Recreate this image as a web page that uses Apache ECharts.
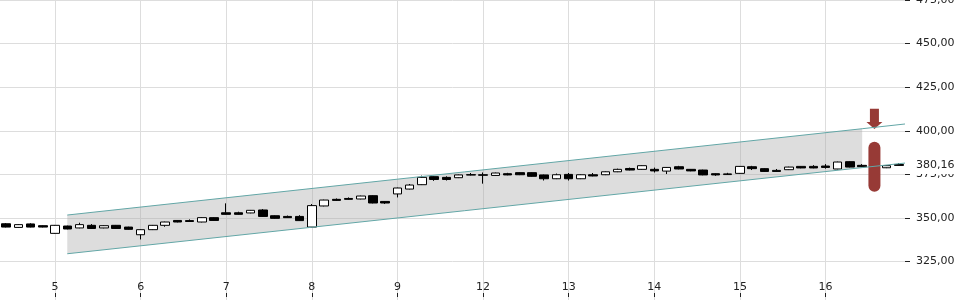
<!DOCTYPE html>
<html><head><meta charset="utf-8">
<script src="https://cdn.jsdelivr.net/npm/echarts@6/dist/echarts.min.js"></script>
<style>html,body{margin:0;padding:0;background:#fff}#c{width:960px;height:300px}</style>
</head><body><div id="c"></div>
<script>
// ---- data ----
const dayLabels = ['4','5','6','7','8','9','12','13','14','15','16'];
const sessionHours = ['09','10','11','12','13','14','15'];
const firstDayHours = ['12','13','14','15'];

const open  = [346.7,344.6,346.6,345.6,341.2,345.4,344.3,345.8,344.3,345.8,344.8,340.4,343.3,345.8,348.6,348.5,347.7,350.2,353.0,353.0,352.9,354.6,351.3,350.9,350.9,344.8,356.9,360.7,361.2,360.9,362.8,359.5,363.8,366.6,369.1,373.7,373.3,373.1,374.6,374.8,374.4,375.4,376.0,376.0,374.7,372.5,375.0,372.5,374.8,374.8,376.5,378.4,377.9,377.9,376.9,379.4,377.9,377.5,375.4,374.9,375.6,379.4,378.3,377.3,377.7,379.6,379.6,379.8,378.1,382.3,380.2,379.6,378.8,380.7];
const close = [344.8,346.2,344.8,344.8,345.8,343.7,346.2,344.0,345.6,344.0,343.5,343.3,345.8,347.7,347.7,348.0,350.2,348.6,352.1,352.1,354.4,350.9,349.8,350.2,348.5,357.1,360.3,360.1,360.7,362.6,358.6,358.6,367.2,368.9,373.3,372.1,372.1,374.7,374.9,374.5,375.8,374.7,374.8,373.9,372.5,374.8,372.5,374.8,374.1,376.5,377.9,377.5,380.0,377.0,379.0,378.1,377.0,374.7,374.7,375.3,379.6,378.3,376.7,376.7,379.2,378.7,378.7,379.0,382.1,379.2,379.4,378.7,380.0,380.16];
const low   = [344.6,344.4,344.6,344.6,341.0,343.5,344.1,343.8,344.1,343.8,343.3,337.7,343.1,345.0,347.5,347.8,347.5,348.4,351.9,351.9,352.7,350.7,349.6,350.0,348.3,344.6,356.7,359.8,360.5,360.7,358.4,358.1,361.8,366.4,368.9,371.3,371.5,372.9,374.4,369.7,374.2,374.5,374.6,373.7,371.5,372.3,371.5,372.3,373.9,374.6,376.3,377.3,377.7,376.1,375.2,377.9,376.8,374.5,374.2,374.7,375.4,377.5,376.5,376.5,377.5,378.5,378.5,378.3,377.9,379.0,379.2,378.5,378.6,380.0];
const high  = [347.1,346.4,347.0,345.8,346.0,345.6,347.3,346.5,345.8,346.0,345.0,343.5,346.0,347.9,348.8,349.2,350.4,350.4,358.4,353.6,354.6,355.1,351.5,351.4,351.6,358.0,360.5,361.2,361.8,362.8,363.0,359.7,367.4,369.5,374.3,373.9,373.9,374.9,375.8,376.1,376.0,375.9,376.2,376.2,374.9,375.5,375.8,375.0,375.8,376.7,378.3,378.9,380.2,378.9,379.2,379.9,378.1,377.7,375.6,375.9,379.8,379.9,378.5,378.1,379.4,379.8,380.3,380.9,382.3,382.5,380.9,380.3,380.2,381.5];
const lastPrice = 380.16;

const channelIdx   = [5, 70, 73.5];
const channelUpper = [351.7, 401.2, 403.9];
const channelLower = [329.5, 378.9, 381.5];

const signalIdx = 71;
const arrowTop = 412.7, arrowTip = 401.0;
const rangeHigh = 393.7, rangeLow = 365.1;

// ---- build ----
const categories = [];
dayLabels.forEach((d, i) => (i === 0 ? firstDayHours : sessionHours).forEach(h => categories.push(d + ' ' + h + ':00')));
const candles = open.map((o, i) => [o, close[i], low[i], high[i]]);
const isDayStart = (idx, val) => / 09:00$/.test(val);
const fmtNum = v => v.toFixed(2).replace('.', ',');
const FONT = 'DejaVu Sans';
const RED = '#973a36';
const TEAL = '#62a6a6';

const chart = echarts.init(document.getElementById('c'), null, {renderer: 'canvas'});
chart.setOption({
  animation: false,
  grid: {left: 0, right: 55, top: 0, height: 305.2, containLabel: false, outerBoundsMode: 'none'},
  xAxis: [{
    type: 'category', data: categories, boundaryGap: true, offset: -8.2,
    axisLine: {show: false, onZero: false},
    axisTick: {show: true, inside: true, length: 4, alignWithLabel: true, interval: isDayStart, lineStyle: {color: '#222'}},
    axisLabel: {show: true, inside: true, margin: 4, interval: isDayStart, formatter: v => v.split(' ')[0], fontFamily: FONT, fontSize: 11, color: '#222'},
    splitLine: {show: true, alignWithLabel: true, interval: isDayStart, lineStyle: {color: '#dddddd', width: 1}}
  }, {
    type: 'value', min: -0.5, max: 73.5, show: false, axisLine: {onZero: false}
  }],
  yAxis: {
    type: 'value', position: 'right', min: 300, max: 475, interval: 25, scale: true,
    axisLine: {show: false, onZero: false},
    axisTick: {show: true, length: 5, lineStyle: {color: '#222'}},
    axisLabel: {margin: 11, formatter: fmtNum, fontFamily: FONT, fontSize: 11, color: '#222'},
    splitLine: {show: true, lineStyle: {color: '#dddddd', width: 1}}
  },
  series: [{
    type: 'custom', xAxisIndex: 1, z: 1, silent: true, data: [[0]],
    renderItem: (params, api) => {
      const pts = [
        api.coord([channelIdx[0], channelUpper[0]]),
        api.coord([channelIdx[1], channelUpper[1]]),
        api.coord([channelIdx[1], channelLower[1]]),
        api.coord([channelIdx[0], channelLower[0]])
      ];
      return {type: 'polygon', shape: {points: pts}, style: {fill: 'rgba(170,170,170,0.4)'}};
    }
  }, {
    type: 'candlestick', xAxisIndex: 0, z: 3, barWidth: 9, data: candles,
    itemStyle: {color: '#ffffff', color0: '#000000', borderColor: '#000000', borderColor0: '#000000', borderColorDoji: '#000000', borderWidth: 1},
    markLine: {
      silent: true, symbol: ['none', 'none'], animation: false,
      lineStyle: {width: 0, color: 'transparent'},
      label: {position: 'end', distance: 11, formatter: () => fmtNum(lastPrice), fontFamily: FONT, fontSize: 11, color: '#222', backgroundColor: '#ffffff', padding: [2, 4, 4, 0]},
      data: [{yAxis: lastPrice}]
    }
  }, {
    type: 'custom', xAxisIndex: 0, z: 4, silent: true, data: [[signalIdx, rangeHigh, rangeLow]],
    renderItem: (params, api) => {
      const a = api.coord([api.value(0), api.value(1)]);
      const b = api.coord([api.value(0), api.value(2)]);
      return {type: 'rect', shape: {x: a[0] - 6, y: a[1], width: 12, height: b[1] - a[1], r: 6}, style: {fill: RED}};
    }
  }, {
    type: 'custom', xAxisIndex: 0, z: 4, silent: true, data: [[signalIdx, arrowTop, arrowTip]],
    renderItem: (params, api) => {
      const t = api.coord([api.value(0), api.value(1)]);
      const p = api.coord([api.value(0), api.value(2)]);
      const cx = t[0], hy = p[1] - 7;
      return {type: 'polygon', shape: {points: [[cx - 4.5, t[1]], [cx + 4.5, t[1]], [cx + 4.5, hy], [cx + 8, hy], [cx, p[1]], [cx - 8, hy], [cx - 4.5, hy]]}, style: {fill: RED}};
    }
  }, {
    type: 'line', xAxisIndex: 1, z: 5, silent: true, symbol: 'none',
    data: channelIdx.map((x, i) => [x, channelUpper[i]]),
    lineStyle: {color: TEAL, width: 1}
  }, {
    type: 'line', xAxisIndex: 1, z: 5, silent: true, symbol: 'none',
    data: channelIdx.map((x, i) => [x, channelLower[i]]),
    lineStyle: {color: TEAL, width: 1}
  }]
});
</script></body></html>
